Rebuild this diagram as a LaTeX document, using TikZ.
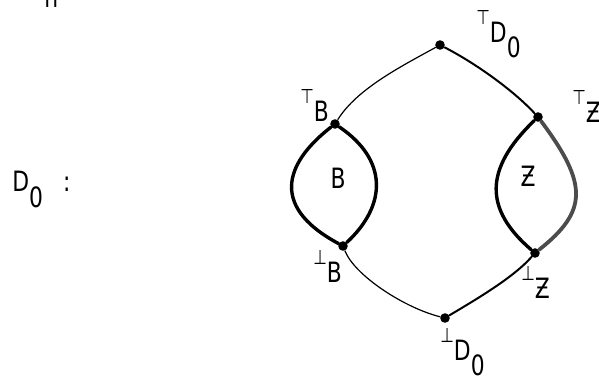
\documentclass[tikz,border=0pt]{standalone}
\usepackage{fontspec}
\setmainfont{DejaVu Sans}[FakeStretch=0.78]
\newcommand{\tsup}[1]{\raisebox{9pt}{\fontsize{10}{10}\selectfont #1}}
\newcommand{\tsub}[1]{\raisebox{-7.5pt}{#1}}

\begin{document}
\begin{tikzpicture}[x=0.5pt,y=-0.5pt,line cap=round,line join=round,font=\fontsize{14}{16}\selectfont,
  dot/.style={circle,fill=black,inner sep=0pt,minimum size=4.8pt},
  lbl/.style={anchor=base west,inner sep=0pt},
  arcthin/.style={black,line width=0.6pt},
  arcmid/.style={black,line width=1.0pt},
  archeavy/.style={black,line width=1.7pt},
  arcgrain/.style={black!70,line width=1.9pt}]
\useasboundingbox (0,0) rectangle (599,379);
% the six points
\node[dot] (topD) at (440,45) {};
\node[dot] (topB) at (335,124) {};
\node[dot] (topZ) at (538,117) {};
\node[dot] (botB) at (343,246) {};
\node[dot] (botZ) at (535,253) {};
\node[dot] (botD) at (445,318) {};
% outer arcs
\draw[arcthin] (topB) .. controls +(22,-35) and +(-40,22) .. (topD);
\draw[arcmid] (topD) .. controls +(35,18) and +(-25,-27) .. (topZ);
\draw[arcthin] (botB) .. controls +(12,30) and +(-40,-10) .. (botD);
\draw[arcmid] (botD) .. controls +(30,-18) and +(-22,25) .. (botZ);
% the two lenses
\draw[archeavy] (topB) .. controls (290,159) and (265,204) .. (botB);
\draw[archeavy] (topB) .. controls (388,160) and (387,205) .. (botB);
\draw[archeavy] (topZ) .. controls (484,169) and (484,209) .. (botZ);
\draw[arcgrain] (topZ) .. controls (588,184) and (588,211) .. (botZ);
% labels
\node[lbl] (nTop) at (44,8) {n};
\node[lbl] (lDzero) at (12,192) {D\tsub{0}\hspace{10pt}:};
\node[lbl] (lTopD) at (476,43) {\tsup{⊤}D\tsub{0}};
\node[lbl] (lTopB) at (300,122) {\tsup{⊤}B};
\node[lbl] (lTopZ) at (572,123) {\tsup{⊤}Ƶ};
\node[lbl] (lBotB) at (313,282) {\tsup{⊥}B};
\node[lbl] (lBotZ) at (521,298) {\tsup{⊥}Ƶ};
\node[lbl] (lBotD) at (440,360) {\tsup{⊥}D\tsub{0}};
\node (lB) at (338,178) {B};
\node (lZ) at (528,176) {Ƶ};
\end{tikzpicture}
\end{document}
